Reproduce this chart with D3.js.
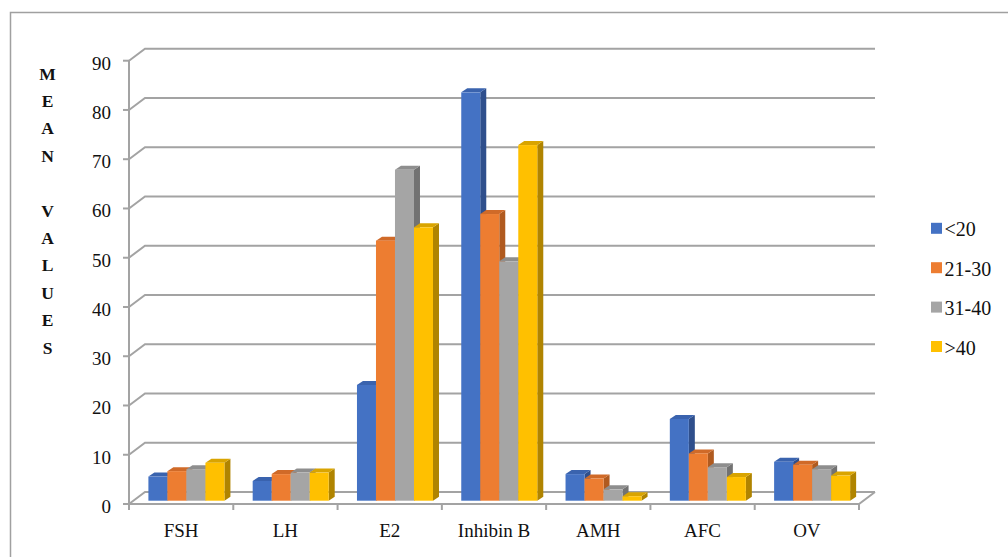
<!DOCTYPE html>
<html>
<head>
<meta charset="utf-8">
<script src="https://cdn.jsdelivr.net/npm/d3@7"></script>
<style>
  html, body { margin: 0; padding: 0; background: #fff; }
  text { font-family: 'Liberation Serif', 'Times New Roman', Times, 'DejaVu Serif', serif; }
</style>
</head>
<body>
<svg id="chart" width="1008" height="557"></svg>
<script>
// Mean hormone / ovarian reserve values by age group
const categories = ["FSH", "LH", "E2", "Inhibin B", "AMH", "AFC", "OV"];
const seriesNames = ["<20", "21-30", "31-40", ">40"];
const under20 = [4.9, 4.0, 23.5, 82.9, 5.4, 16.6, 7.9];
const age21to30 = [6.0, 5.4, 52.8, 58.2, 4.5, 9.6, 7.3];
const age31to40 = [6.4, 5.7, 67.2, 48.6, 2.3, 6.8, 6.4];
const over40 = [7.7, 5.7, 55.5, 72.2, 0.9, 4.8, 5.1];
const yTicks = [0, 10, 20, 30, 40, 50, 60, 70, 80, 90];
const axisTitle = ["M", "E", "A", "N", "", "V", "A", "L", "U", "E", "S"];

const seriesValues = [under20, age21to30, age31to40, over40];
const colors = {
  front: ["#4472C4", "#ED7D31", "#A5A5A5", "#FFC000"],
  side:  ["#2F4F8C", "#B05A1F", "#727272", "#B08400"],
  top:   ["#3A63AE", "#D06A28", "#8E8E8E", "#D9A400"]
};
const serif = "'Liberation Serif', 'Times New Roman', Times, 'DejaVu Serif', serif";

const svg = d3.select("#chart");

// Layout of the 3-D plot area
const x0 = 129, x1 = 859;          // front floor edge
const yBase = 504, yTop = 60.7;    // front value axis extent
const wallDx = 16, wallDy = -12;   // back-wall offset
const barShiftY = -3.3;            // bars stand a little into the floor
const depthDx = 6, depthDy = -4;   // bar depth

const xCat = d3.scaleBand().domain(categories).range([x0, x1]).padding(0);
const bw = xCat.bandwidth();
const xSeries = d3.scaleBand().domain(seriesNames).range([bw * 0.186, bw * 0.915]).padding(0);
const y = d3.scaleLinear().domain([0, 90]).range([yBase, yTop]);

const gridColor = "#A3A3A3";

// Outer frame (left and top edges visible)
svg.append("rect")
  .attr("x", 10.5).attr("y", 12.5)
  .attr("width", 1020).attr("height", 560)
  .attr("fill", "none").attr("stroke", "#A0A0A0").attr("stroke-width", 1.5);

// Back-wall gridlines with their diagonal lead-ins from the value axis
const grid = svg.append("g").attr("fill", "none").attr("stroke", gridColor).attr("stroke-width", 2);
yTicks.forEach(t => {
  const yy = y(t);
  grid.append("path")
    .attr("d", `M${x0},${yy} L${x0 + wallDx},${yy + wallDy} L${x1 + wallDx},${yy + wallDy}`);
});

// Floor outline
grid.append("path")
  .attr("d", `M${x0},${yBase} L${x1},${yBase} L${x1 + wallDx},${yBase + wallDy}`);

// Value axis line and ticks
const axisG = svg.append("g").attr("stroke", gridColor).attr("stroke-width", 2);
axisG.append("line").attr("x1", x0).attr("x2", x0).attr("y1", yTop).attr("y2", yBase);
yTicks.forEach(t => {
  axisG.append("line").attr("x1", x0 - 6).attr("x2", x0).attr("y1", y(t)).attr("y2", y(t));
});

// Category ticks
const catTicks = categories.map(c => xCat(c)).concat([x1]);
catTicks.forEach(cx => {
  axisG.append("line").attr("x1", cx).attr("x2", cx).attr("y1", yBase).attr("y2", yBase + 6);
});

// Value tick labels
svg.append("g").selectAll("text").data(yTicks).join("text")
  .attr("x", 111).attr("y", d => y(d) + 8.9)
  .attr("text-anchor", "end")
  .attr("font-family", serif)
  .attr("font-size", 19).attr("fill", "#111")
  .text(d => d);

// Category labels
svg.append("g").selectAll("text").data(categories).join("text")
  .attr("x", d => xCat(d) + bw / 2).attr("y", 536.5)
  .attr("text-anchor", "middle")
  .attr("font-family", serif)
  .attr("font-size", 19).attr("fill", "#111")
  .text(d => d);

// Stacked vertical axis title
svg.append("g").selectAll("text").data(axisTitle).join("text")
  .attr("x", 47.5).attr("y", (d, i) => 79.5 + i * 27.4)
  .attr("text-anchor", "middle")
  .attr("font-family", serif)
  .attr("font-size", 17.5).attr("font-weight", "bold").attr("fill", "#111")
  .text(d => d);

// 3-D bars: side, top, then front face, drawn left to right
const bars = svg.append("g");
categories.forEach((cat, ci) => {
  seriesNames.forEach((s, si) => {
    const v = seriesValues[si][ci];
    const L = xCat(cat) + xSeries(s);
    const R = L + xSeries.bandwidth();
    const b = y(0) + barShiftY;
    const t = y(v) + barShiftY;
    bars.append("path")
      .attr("d", `M${R},${b} L${R + depthDx},${b + depthDy} L${R + depthDx},${t + depthDy} L${R},${t} Z`)
      .attr("fill", colors.side[si]);
    bars.append("path")
      .attr("d", `M${L},${t} L${R},${t} L${R + depthDx},${t + depthDy} L${L + depthDx},${t + depthDy} Z`)
      .attr("fill", colors.top[si]);
    bars.append("rect")
      .attr("x", L).attr("y", t)
      .attr("width", R - L).attr("height", b - t)
      .attr("fill", colors.front[si]);
  });
});

// Legend
const legend = svg.append("g");
seriesNames.forEach((s, i) => {
  const cy = 228.3 + i * 39.4;
  legend.append("rect")
    .attr("x", 931).attr("y", cy - 5.5).attr("width", 11).attr("height", 11)
    .attr("fill", colors.front[i]);
  legend.append("text")
    .attr("x", 944.5).attr("y", cy + 8)
    .attr("font-family", serif)
    .attr("font-size", 20).attr("fill", "#111")
    .text(s);
});
</script>
</body>
</html>
